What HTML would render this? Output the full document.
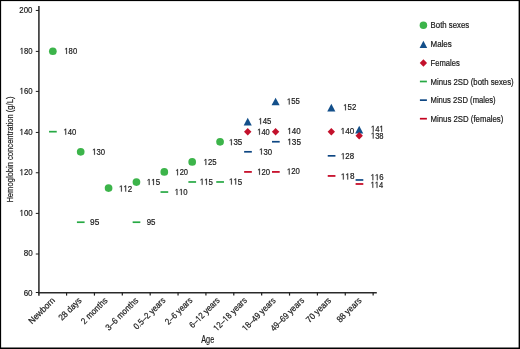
<!DOCTYPE html>
<html><head><meta charset="utf-8"><style>
html,body{margin:0;padding:0;background:#fff;}
svg{display:block;will-change:transform;}
text{font-family:"Liberation Sans",sans-serif;stroke:#1a1a1a;stroke-width:0.2px;}
path.o{stroke:#1a1a1a;stroke-width:0.2px;vector-effect:non-scaling-stroke;}
</style></head><body>
<svg width="520" height="349" viewBox="0 0 520 349">
<rect x="0" y="0" width="520" height="349" fill="#000"/>
<rect x="1.12" y="1.1" width="517.48" height="346.4" fill="#fff"/>
<line x1="38.91" y1="6.1" x2="38.91" y2="295.7" stroke="#2a2a2a" stroke-width="1.54"/>
<line x1="38.2" y1="292.75" x2="376.8" y2="292.75" stroke="#2a2a2a" stroke-width="1.5"/>
<line x1="35.8" y1="10.46" x2="39" y2="10.46" stroke="#1e1e1e" stroke-width="1"/>
<line x1="35.8" y1="51.4" x2="39" y2="51.4" stroke="#1e1e1e" stroke-width="1"/>
<line x1="35.8" y1="91.4" x2="39" y2="91.4" stroke="#1e1e1e" stroke-width="1"/>
<line x1="35.8" y1="132.45" x2="39" y2="132.45" stroke="#1e1e1e" stroke-width="1"/>
<line x1="35.8" y1="172.75" x2="39" y2="172.75" stroke="#1e1e1e" stroke-width="1"/>
<line x1="35.8" y1="213.4" x2="39" y2="213.4" stroke="#1e1e1e" stroke-width="1"/>
<line x1="35.8" y1="254.0" x2="39" y2="254.0" stroke="#1e1e1e" stroke-width="1"/>
<line x1="35.8" y1="292.5" x2="39" y2="292.5" stroke="#1e1e1e" stroke-width="1"/>
<text transform="translate(19.36,12.95) scale(0.9026,1)" font-size="8.7" fill="#1a1a1a" style="font-kerning:none">200</text>
<path class="o" transform="translate(19.71,53.89) scale(0.003758,-0.004248)" d="M515 0L515 1237L197 1010L197 1180L530 1409L696 1409L696 0Z" fill="#1a1a1a"/><text transform="translate(23.99,53.89) scale(0.8846,1)" font-size="8.7" fill="#1a1a1a" style="font-kerning:none">80</text>
<path class="o" transform="translate(19.56,93.89) scale(0.003803,-0.004248)" d="M515 0L515 1237L197 1010L197 1180L530 1409L696 1409L696 0Z" fill="#1a1a1a"/><text transform="translate(23.89,93.89) scale(0.8951,1)" font-size="8.7" fill="#1a1a1a" style="font-kerning:none">60</text>
<path class="o" transform="translate(19.55,134.94) scale(0.003834,-0.004248)" d="M515 0L515 1237L197 1010L197 1180L530 1409L696 1409L696 0Z" fill="#1a1a1a"/><text transform="translate(23.92,134.94) scale(0.9026,1)" font-size="8.7" fill="#1a1a1a" style="font-kerning:none">40</text>
<path class="o" transform="translate(19.56,175.24) scale(0.003803,-0.004248)" d="M515 0L515 1237L197 1010L197 1180L530 1409L696 1409L696 0Z" fill="#1a1a1a"/><text transform="translate(23.89,175.24) scale(0.8951,1)" font-size="8.7" fill="#1a1a1a" style="font-kerning:none">20</text>
<path class="o" transform="translate(19.55,215.89) scale(0.003834,-0.004248)" d="M515 0L515 1237L197 1010L197 1180L530 1409L696 1409L696 0Z" fill="#1a1a1a"/><text transform="translate(23.92,215.89) scale(0.9026,1)" font-size="8.7" fill="#1a1a1a" style="font-kerning:none">00</text>
<text transform="translate(23.80,256.49) scale(0.9264,1)" font-size="8.7" fill="#1a1a1a" style="font-kerning:none">80</text>
<text transform="translate(23.64,295.89) scale(0.9218,1)" font-size="8.7" fill="#1a1a1a" style="font-kerning:none">60</text>
<line x1="66.57" y1="292.5" x2="66.57" y2="295.6" stroke="#1e1e1e" stroke-width="1.2"/>
<line x1="94.44" y1="292.5" x2="94.44" y2="295.6" stroke="#1e1e1e" stroke-width="1.2"/>
<line x1="122.31" y1="292.5" x2="122.31" y2="295.6" stroke="#1e1e1e" stroke-width="1.2"/>
<line x1="150.18" y1="292.5" x2="150.18" y2="295.6" stroke="#1e1e1e" stroke-width="1.2"/>
<line x1="178.05" y1="292.5" x2="178.05" y2="295.6" stroke="#1e1e1e" stroke-width="1.2"/>
<line x1="205.92" y1="292.5" x2="205.92" y2="295.6" stroke="#1e1e1e" stroke-width="1.2"/>
<line x1="233.79" y1="292.5" x2="233.79" y2="295.6" stroke="#1e1e1e" stroke-width="1.2"/>
<line x1="261.66" y1="292.5" x2="261.66" y2="295.6" stroke="#1e1e1e" stroke-width="1.2"/>
<line x1="289.53" y1="292.5" x2="289.53" y2="295.6" stroke="#1e1e1e" stroke-width="1.2"/>
<line x1="317.40" y1="292.5" x2="317.40" y2="295.6" stroke="#1e1e1e" stroke-width="1.2"/>
<line x1="345.27" y1="292.5" x2="345.27" y2="295.6" stroke="#1e1e1e" stroke-width="1.2"/>
<line x1="373.14" y1="292.5" x2="373.14" y2="295.6" stroke="#1e1e1e" stroke-width="1.2"/>
<g transform="translate(55.52,301.02) rotate(-45)"><text transform="translate(-33.32,0.00) scale(0.9356,1)" font-size="8.9" fill="#1a1a1a" style="font-kerning:none">Newborn</text></g>
<g transform="translate(82.12,301.02) rotate(-45)"><text transform="translate(-28.40,0.00) scale(0.9111,1)" font-size="8.9" fill="#1a1a1a" style="font-kerning:none">28 days</text></g>
<g transform="translate(108.12,301.02) rotate(-45)"><text transform="translate(-33.40,0.00) scale(0.9124,1)" font-size="8.9" fill="#1a1a1a" style="font-kerning:none">2 months</text></g>
<g transform="translate(138.82,301.02) rotate(-45)"><text transform="translate(-42.30,0.00) scale(0.9095,1)" font-size="8.9" fill="#1a1a1a" style="font-kerning:none">3–6 months</text></g>
<g transform="translate(166.02,301.02) rotate(-45)"><text transform="translate(-41.09,0.00) scale(0.8835,1)" font-size="8.9" fill="#1a1a1a" style="font-kerning:none">0.5–2 years</text></g>
<g transform="translate(192.92,301.02) rotate(-45)"><text transform="translate(-34.38,0.00) scale(0.8795,1)" font-size="8.9" fill="#1a1a1a" style="font-kerning:none">2–6 years</text></g>
<g transform="translate(220.27,301.02) rotate(-45)"><text transform="translate(-38.78,0.00) scale(0.8807,1)" font-size="8.9" fill="#1a1a1a" style="font-kerning:none">6–</text><path class="o" transform="translate(-30.06,0.00) scale(0.003827,-0.004346)" d="M515 0L515 1237L197 1010L197 1180L530 1409L696 1409L696 0Z" fill="#1a1a1a"/><text transform="translate(-25.70,0.00) scale(0.8807,1)" font-size="8.9" fill="#1a1a1a" style="font-kerning:none">2 years</text></g>
<g transform="translate(247.52,301.02) rotate(-45)"><path class="o" transform="translate(-43.34,0.00) scale(0.003845,-0.004346)" d="M515 0L515 1237L197 1010L197 1180L530 1409L696 1409L696 0Z" fill="#1a1a1a"/><text transform="translate(-38.96,0.00) scale(0.8848,1)" font-size="8.9" fill="#1a1a1a" style="font-kerning:none">2–</text><path class="o" transform="translate(-30.20,0.00) scale(0.003845,-0.004346)" d="M515 0L515 1237L197 1010L197 1180L530 1409L696 1409L696 0Z" fill="#1a1a1a"/><text transform="translate(-25.82,0.00) scale(0.8848,1)" font-size="8.9" fill="#1a1a1a" style="font-kerning:none">8 years</text></g>
<g transform="translate(276.27,301.02) rotate(-45)"><path class="o" transform="translate(-43.34,0.00) scale(0.003845,-0.004346)" d="M515 0L515 1237L197 1010L197 1180L530 1409L696 1409L696 0Z" fill="#1a1a1a"/><text transform="translate(-38.96,0.00) scale(0.8848,1)" font-size="8.9" fill="#1a1a1a" style="font-kerning:none">8–49 years</text></g>
<g transform="translate(304.77,301.02) rotate(-45)"><text transform="translate(-43.57,0.00) scale(0.8894,1)" font-size="8.9" fill="#1a1a1a" style="font-kerning:none">49–69 years</text></g>
<g transform="translate(331.77,301.02) rotate(-45)"><text transform="translate(-31.42,0.00) scale(0.9203,1)" font-size="8.9" fill="#1a1a1a" style="font-kerning:none">70 years</text></g>
<g transform="translate(362.07,301.02) rotate(-45)"><text transform="translate(-30.94,0.00) scale(0.9064,1)" font-size="8.9" fill="#1a1a1a" style="font-kerning:none">88 years</text></g>
<text x="201.24" y="342.6" font-size="10.6" textLength="13.04" lengthAdjust="spacingAndGlyphs" fill="#1a1a1a">Age</text>
<text transform="translate(12.9,202.62) rotate(-90)" font-size="9.3" textLength="106.10" lengthAdjust="spacingAndGlyphs" fill="#1a1a1a">Hemoglobin concentration (g/L)</text>
<line x1="49.04" y1="131.68" x2="56.74" y2="131.68" stroke="#27a944" stroke-width="1.7"/>
<line x1="76.91" y1="222.22" x2="84.60" y2="222.22" stroke="#27a944" stroke-width="1.7"/>
<line x1="132.65" y1="222.22" x2="140.34" y2="222.22" stroke="#27a944" stroke-width="1.7"/>
<line x1="160.52" y1="192.04" x2="168.22" y2="192.04" stroke="#27a944" stroke-width="1.7"/>
<line x1="188.39" y1="181.98" x2="196.09" y2="181.98" stroke="#27a944" stroke-width="1.7"/>
<line x1="216.26" y1="181.98" x2="223.96" y2="181.98" stroke="#27a944" stroke-width="1.7"/>
<line x1="244.13" y1="151.80" x2="251.83" y2="151.80" stroke="#0e4783" stroke-width="1.7"/>
<line x1="272.00" y1="141.74" x2="279.70" y2="141.74" stroke="#0e4783" stroke-width="1.7"/>
<line x1="327.73" y1="155.82" x2="335.44" y2="155.82" stroke="#0e4783" stroke-width="1.7"/>
<line x1="355.60" y1="179.97" x2="363.31" y2="179.97" stroke="#0e4783" stroke-width="1.7"/>
<line x1="244.13" y1="171.92" x2="251.83" y2="171.92" stroke="#c4021f" stroke-width="1.7"/>
<line x1="272.00" y1="171.92" x2="279.70" y2="171.92" stroke="#c4021f" stroke-width="1.7"/>
<line x1="327.73" y1="175.94" x2="335.44" y2="175.94" stroke="#c4021f" stroke-width="1.7"/>
<line x1="355.60" y1="183.99" x2="363.31" y2="183.99" stroke="#c4021f" stroke-width="1.7"/>
<circle cx="52.84" cy="51.25" r="3.85" fill="#3cb44a"/>
<circle cx="80.70" cy="151.85" r="3.85" fill="#3cb44a"/>
<circle cx="108.58" cy="188.07" r="3.85" fill="#3cb44a"/>
<circle cx="136.44" cy="182.03" r="3.85" fill="#3cb44a"/>
<circle cx="164.31" cy="171.97" r="3.85" fill="#3cb44a"/>
<circle cx="192.19" cy="161.91" r="3.85" fill="#3cb44a"/>
<circle cx="220.06" cy="141.79" r="3.85" fill="#3cb44a"/>
<path d="M247.73 117.77L251.78 125.47L243.68 125.47Z" fill="#134f8a"/>
<path d="M275.60 97.65L279.65 105.35L271.55 105.35Z" fill="#134f8a"/>
<path d="M331.33 103.69L335.38 111.39L327.28 111.39Z" fill="#134f8a"/>
<path d="M359.20 125.82L363.25 133.52L355.15 133.52Z" fill="#134f8a"/>
<path d="M247.73 127.98L251.43 131.68L247.73 135.38L244.03 131.68Z" fill="#c3112c"/>
<path d="M275.60 127.98L279.30 131.68L275.60 135.38L271.90 131.68Z" fill="#c3112c"/>
<path d="M331.33 127.98L335.03 131.68L331.33 135.38L327.63 131.68Z" fill="#c3112c"/>
<path d="M359.20 132.00L362.90 135.70L359.20 139.40L355.50 135.70Z" fill="#c3112c"/>
<path class="o" transform="translate(64.36,53.89) scale(0.003742,-0.004248)" d="M515 0L515 1237L197 1010L197 1180L530 1409L696 1409L696 0Z" fill="#1a1a1a"/><text transform="translate(68.62,53.89) scale(0.8809,1)" font-size="8.7" fill="#1a1a1a" style="font-kerning:none">80</text>
<path class="o" transform="translate(63.51,134.69) scale(0.003758,-0.004248)" d="M515 0L515 1237L197 1010L197 1180L530 1409L696 1409L696 0Z" fill="#1a1a1a"/><text transform="translate(67.79,134.69) scale(0.8846,1)" font-size="8.7" fill="#1a1a1a" style="font-kerning:none">40</text>
<path class="o" transform="translate(92.21,154.69) scale(0.003758,-0.004248)" d="M515 0L515 1237L197 1010L197 1180L530 1409L696 1409L696 0Z" fill="#1a1a1a"/><text transform="translate(96.49,154.69) scale(0.8846,1)" font-size="8.7" fill="#1a1a1a" style="font-kerning:none">30</text>
<text transform="translate(90.06,225.49) scale(0.9546,1)" font-size="8.7" fill="#1a1a1a" style="font-kerning:none">95</text>
<path class="o" transform="translate(118.99,191.59) scale(0.003882,-0.004248)" d="M515 0L515 1237L197 1010L197 1180L530 1409L696 1409L696 0Z" fill="#1a1a1a"/><path class="o" transform="translate(123.41,191.59) scale(0.003882,-0.004248)" d="M515 0L515 1237L197 1010L197 1180L530 1409L696 1409L696 0Z" fill="#1a1a1a"/><text transform="translate(127.83,191.59) scale(0.9138,1)" font-size="8.7" fill="#1a1a1a" style="font-kerning:none">2</text>
<path class="o" transform="translate(146.78,185.05) scale(0.003893,-0.004248)" d="M515 0L515 1237L197 1010L197 1180L530 1409L696 1409L696 0Z" fill="#1a1a1a"/><path class="o" transform="translate(151.22,185.05) scale(0.003893,-0.004248)" d="M515 0L515 1237L197 1010L197 1180L530 1409L696 1409L696 0Z" fill="#1a1a1a"/><text transform="translate(155.65,185.05) scale(0.9164,1)" font-size="8.7" fill="#1a1a1a" style="font-kerning:none">5</text>
<text transform="translate(146.68,225.39) scale(0.9097,1)" font-size="8.7" fill="#1a1a1a" style="font-kerning:none">95</text>
<path class="o" transform="translate(175.42,175.24) scale(0.003694,-0.004248)" d="M515 0L515 1237L197 1010L197 1180L530 1409L696 1409L696 0Z" fill="#1a1a1a"/><text transform="translate(179.63,175.24) scale(0.8696,1)" font-size="8.7" fill="#1a1a1a" style="font-kerning:none">20</text>
<path class="o" transform="translate(174.70,194.89) scale(0.003790,-0.004248)" d="M515 0L515 1237L197 1010L197 1180L530 1409L696 1409L696 0Z" fill="#1a1a1a"/><path class="o" transform="translate(179.02,194.89) scale(0.003790,-0.004248)" d="M515 0L515 1237L197 1010L197 1180L530 1409L696 1409L696 0Z" fill="#1a1a1a"/><text transform="translate(183.34,194.89) scale(0.8921,1)" font-size="8.7" fill="#1a1a1a" style="font-kerning:none">0</text>
<path class="o" transform="translate(203.60,165.04) scale(0.003797,-0.004248)" d="M515 0L515 1237L197 1010L197 1180L530 1409L696 1409L696 0Z" fill="#1a1a1a"/><text transform="translate(207.93,165.04) scale(0.8938,1)" font-size="8.7" fill="#1a1a1a" style="font-kerning:none">25</text>
<path class="o" transform="translate(199.79,184.70) scale(0.003861,-0.004248)" d="M515 0L515 1237L197 1010L197 1180L530 1409L696 1409L696 0Z" fill="#1a1a1a"/><path class="o" transform="translate(204.19,184.70) scale(0.003861,-0.004248)" d="M515 0L515 1237L197 1010L197 1180L530 1409L696 1409L696 0Z" fill="#1a1a1a"/><text transform="translate(208.58,184.70) scale(0.9089,1)" font-size="8.7" fill="#1a1a1a" style="font-kerning:none">5</text>
<path class="o" transform="translate(228.98,145.14) scale(0.003893,-0.004248)" d="M515 0L515 1237L197 1010L197 1180L530 1409L696 1409L696 0Z" fill="#1a1a1a"/><text transform="translate(233.42,145.14) scale(0.9164,1)" font-size="8.7" fill="#1a1a1a" style="font-kerning:none">35</text>
<path class="o" transform="translate(228.98,184.50) scale(0.003893,-0.004248)" d="M515 0L515 1237L197 1010L197 1180L530 1409L696 1409L696 0Z" fill="#1a1a1a"/><path class="o" transform="translate(233.42,184.50) scale(0.003893,-0.004248)" d="M515 0L515 1237L197 1010L197 1180L530 1409L696 1409L696 0Z" fill="#1a1a1a"/><text transform="translate(237.85,184.50) scale(0.9164,1)" font-size="8.7" fill="#1a1a1a" style="font-kerning:none">5</text>
<path class="o" transform="translate(258.40,124.15) scale(0.003797,-0.004248)" d="M515 0L515 1237L197 1010L197 1180L530 1409L696 1409L696 0Z" fill="#1a1a1a"/><text transform="translate(262.73,124.15) scale(0.8938,1)" font-size="8.7" fill="#1a1a1a" style="font-kerning:none">45</text>
<path class="o" transform="translate(257.23,134.84) scale(0.003662,-0.004248)" d="M515 0L515 1237L197 1010L197 1180L530 1409L696 1409L696 0Z" fill="#1a1a1a"/><text transform="translate(261.40,134.84) scale(0.8621,1)" font-size="8.7" fill="#1a1a1a" style="font-kerning:none">40</text>
<path class="o" transform="translate(259.10,154.54) scale(0.003790,-0.004248)" d="M515 0L515 1237L197 1010L197 1180L530 1409L696 1409L696 0Z" fill="#1a1a1a"/><text transform="translate(263.42,154.54) scale(0.8921,1)" font-size="8.7" fill="#1a1a1a" style="font-kerning:none">30</text>
<path class="o" transform="translate(257.26,174.69) scale(0.003774,-0.004248)" d="M515 0L515 1237L197 1010L197 1180L530 1409L696 1409L696 0Z" fill="#1a1a1a"/><text transform="translate(261.56,174.69) scale(0.8884,1)" font-size="8.7" fill="#1a1a1a" style="font-kerning:none">20</text>
<path class="o" transform="translate(286.90,104.45) scale(0.003797,-0.004248)" d="M515 0L515 1237L197 1010L197 1180L530 1409L696 1409L696 0Z" fill="#1a1a1a"/><text transform="translate(291.23,104.45) scale(0.8938,1)" font-size="8.7" fill="#1a1a1a" style="font-kerning:none">55</text>
<path class="o" transform="translate(287.33,134.04) scale(0.003901,-0.004248)" d="M515 0L515 1237L197 1010L197 1180L530 1409L696 1409L696 0Z" fill="#1a1a1a"/><text transform="translate(291.78,134.04) scale(0.9184,1)" font-size="8.7" fill="#1a1a1a" style="font-kerning:none">40</text>
<path class="o" transform="translate(287.31,144.69) scale(0.004004,-0.004248)" d="M515 0L515 1237L197 1010L197 1180L530 1409L696 1409L696 0Z" fill="#1a1a1a"/><text transform="translate(291.87,144.69) scale(0.9427,1)" font-size="8.7" fill="#1a1a1a" style="font-kerning:none">35</text>
<path class="o" transform="translate(286.90,174.49) scale(0.003790,-0.004248)" d="M515 0L515 1237L197 1010L197 1180L530 1409L696 1409L696 0Z" fill="#1a1a1a"/><text transform="translate(291.22,174.49) scale(0.8921,1)" font-size="8.7" fill="#1a1a1a" style="font-kerning:none">20</text>
<path class="o" transform="translate(343.20,110.34) scale(0.003818,-0.004248)" d="M515 0L515 1237L197 1010L197 1180L530 1409L696 1409L696 0Z" fill="#1a1a1a"/><text transform="translate(347.55,110.34) scale(0.8987,1)" font-size="8.7" fill="#1a1a1a" style="font-kerning:none">52</text>
<path class="o" transform="translate(340.67,133.99) scale(0.003981,-0.004248)" d="M515 0L515 1237L197 1010L197 1180L530 1409L696 1409L696 0Z" fill="#1a1a1a"/><text transform="translate(345.20,133.99) scale(0.9371,1)" font-size="8.7" fill="#1a1a1a" style="font-kerning:none">40</text>
<path class="o" transform="translate(340.89,159.14) scale(0.003865,-0.004248)" d="M515 0L515 1237L197 1010L197 1180L530 1409L696 1409L696 0Z" fill="#1a1a1a"/><text transform="translate(345.29,159.14) scale(0.9097,1)" font-size="8.7" fill="#1a1a1a" style="font-kerning:none">28</text>
<path class="o" transform="translate(340.87,179.44) scale(0.003960,-0.004248)" d="M515 0L515 1237L197 1010L197 1180L530 1409L696 1409L696 0Z" fill="#1a1a1a"/><path class="o" transform="translate(345.38,179.44) scale(0.003960,-0.004248)" d="M515 0L515 1237L197 1010L197 1180L530 1409L696 1409L696 0Z" fill="#1a1a1a"/><text transform="translate(349.89,179.44) scale(0.9323,1)" font-size="8.7" fill="#1a1a1a" style="font-kerning:none">8</text>
<path class="o" transform="translate(370.91,131.84) scale(0.003745,-0.004248)" d="M515 0L515 1237L197 1010L197 1180L530 1409L696 1409L696 0Z" fill="#1a1a1a"/><text transform="translate(375.18,131.84) scale(0.8816,1)" font-size="8.7" fill="#1a1a1a" style="font-kerning:none">4</text><path class="o" transform="translate(379.44,131.84) scale(0.003745,-0.004248)" d="M515 0L515 1237L197 1010L197 1180L530 1409L696 1409L696 0Z" fill="#1a1a1a"/>
<path class="o" transform="translate(370.92,138.59) scale(0.003705,-0.004248)" d="M515 0L515 1237L197 1010L197 1180L530 1409L696 1409L696 0Z" fill="#1a1a1a"/><text transform="translate(375.14,138.59) scale(0.8721,1)" font-size="8.7" fill="#1a1a1a" style="font-kerning:none">38</text>
<path class="o" transform="translate(370.60,180.19) scale(0.003802,-0.004248)" d="M515 0L515 1237L197 1010L197 1180L530 1409L696 1409L696 0Z" fill="#1a1a1a"/><path class="o" transform="translate(374.93,180.19) scale(0.003802,-0.004248)" d="M515 0L515 1237L197 1010L197 1180L530 1409L696 1409L696 0Z" fill="#1a1a1a"/><text transform="translate(379.26,180.19) scale(0.8950,1)" font-size="8.7" fill="#1a1a1a" style="font-kerning:none">6</text>
<path class="o" transform="translate(370.63,187.79) scale(0.003671,-0.004248)" d="M515 0L515 1237L197 1010L197 1180L530 1409L696 1409L696 0Z" fill="#1a1a1a"/><path class="o" transform="translate(374.81,187.79) scale(0.003671,-0.004248)" d="M515 0L515 1237L197 1010L197 1180L530 1409L696 1409L696 0Z" fill="#1a1a1a"/><text transform="translate(378.99,187.79) scale(0.8641,1)" font-size="8.7" fill="#1a1a1a" style="font-kerning:none">4</text>
<circle cx="423.40" cy="25.15" r="3.75" fill="#3cb44a"/>
<text x="430.61" y="28.15" font-size="8.4" textLength="38.52" lengthAdjust="spacingAndGlyphs" fill="#1a1a1a">Both sexes</text>
<path d="M423.40 40.65L427.20 47.95L419.60 47.95Z" fill="#134f8a"/>
<text x="430.55" y="47.30" font-size="8.4" textLength="21.19" lengthAdjust="spacingAndGlyphs" fill="#1a1a1a">Males</text>
<path d="M423.40 59.35L427.05 63.00L423.40 66.65L419.75 63.00Z" fill="#c3112c"/>
<text x="430.52" y="66.00" font-size="8.4" textLength="29.25" lengthAdjust="spacingAndGlyphs" fill="#1a1a1a">Females</text>
<line x1="419.90" y1="81.50" x2="426.90" y2="81.50" stroke="#27a944" stroke-width="1.7"/>
<text x="430.51" y="84.50" font-size="8.4" textLength="83.12" lengthAdjust="spacingAndGlyphs" fill="#1a1a1a">Minus 2SD (both sexes)</text>
<line x1="419.90" y1="100.15" x2="426.90" y2="100.15" stroke="#0e4783" stroke-width="1.7"/>
<text x="430.52" y="103.15" font-size="8.4" textLength="65.10" lengthAdjust="spacingAndGlyphs" fill="#1a1a1a">Minus 2SD (males)</text>
<line x1="419.90" y1="118.70" x2="426.90" y2="118.70" stroke="#c4021f" stroke-width="1.7"/>
<text x="430.51" y="121.70" font-size="8.4" textLength="72.82" lengthAdjust="spacingAndGlyphs" fill="#1a1a1a">Minus 2SD (females)</text>
</svg>
</body></html>
